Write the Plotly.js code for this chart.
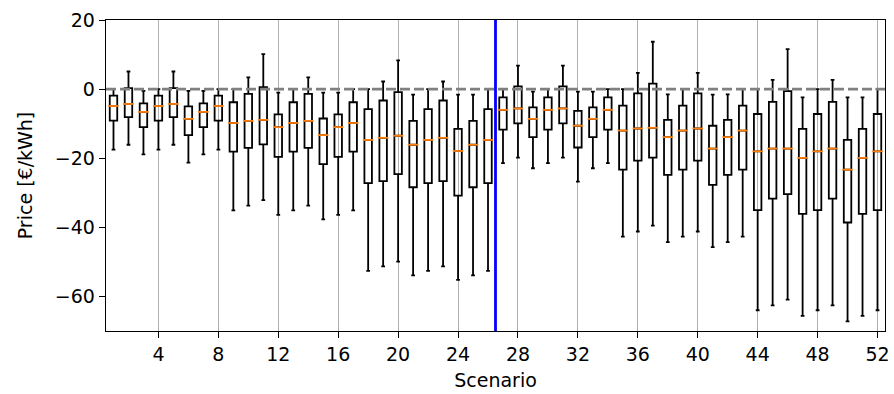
<!DOCTYPE html>
<html>
<head>
<meta charset="utf-8">
<script src="https://cdn.plot.ly/plotly-3.0.1.min.js"></script>
<style>
  html, body { margin: 0; padding: 0; background: #fff; }
  #chart { width: 894px; height: 394px; }
</style>
</head>
<body>
<div id="chart"></div>
<script>
// Scenario numbers 1..52
const scenarios = Array.from({length: 52}, (_, i) => i + 1);

// Per-scenario price statistics [€/kWh]
const upperWhisker = [
  0, 5.1, -0.5, 0, 5.1, -0.5, -0.5, 0, 0, 3.4, 10.1, -1.0, 0,
  3.4, -1.0, -1.0, 0, 0, 2.2, 8.3, -1.6, 0, 2.2, -1.6, -1.6, 0,
  0, 6.8, -0.7, 0, 6.8, -0.7, -0.7, 0, 0, 4.7, 13.7, -1.5, 0,
  4.7, -1.6, -1.5, 0, 0, 2.7, 11.6, -2.4, 0, 2.7, -2.4, -2.4, 0
];
const q3 = [
  -1.9, 0.3, -4.1, -1.9, 0.3, -5.0, -4.1, -1.9, -3.8, -1.35, 0.6, -7.3, -3.8,
  -1.35, -8.5, -7.3, -3.8, -5.8, -3.3, -0.9, -9.2, -5.8, -3.3, -11.5, -9.2, -5.8,
  -2.4, 0.8, -5.3, -2.4, 0.8, -6.3, -5.3, -2.4, -4.8, -1.25, 1.6, -8.9, -4.8,
  -1.25, -10.6, -8.9, -4.8, -7.2, -3.7, -0.6, -11.5, -7.2, -3.7, -14.7, -11.5, -7.2
];
const medians = [
  -4.9, -4.3, -6.6, -4.9, -4.3, -8.6, -6.6, -4.9, -9.8, -9.2, -8.9, -11.0, -9.8,
  -9.2, -13.3, -11.0, -9.8, -14.7, -14.1, -13.5, -16.1, -14.7, -14.1, -17.9, -16.1, -14.7,
  -6.0, -5.6, -8.6, -6.0, -5.6, -10.6, -8.6, -6.0, -12.0, -11.4, -11.2, -13.9, -12.0,
  -11.4, -17.2, -13.9, -12.0, -18.0, -17.2, -17.2, -19.9, -18.0, -17.2, -23.3, -19.9, -18.0
];
const q1 = [
  -9.1, -8.1, -11.0, -9.1, -8.1, -13.3, -11.0, -9.1, -18.1, -17.0, -16.0, -19.6, -18.1,
  -17.0, -21.7, -19.6, -18.1, -27.2, -26.6, -24.6, -28.4, -27.2, -26.6, -30.8, -28.4, -27.2,
  -11.7, -9.9, -13.9, -11.7, -9.9, -16.9, -13.9, -11.7, -23.3, -20.7, -19.8, -24.8, -23.3,
  -20.7, -27.7, -24.8, -23.3, -35.0, -31.7, -30.4, -36.1, -35.0, -31.7, -38.6, -36.1, -35.0
];
const lowerWhisker = [
  -17.5, -16.1, -18.9, -17.5, -16.1, -21.3, -18.9, -17.5, -35.1, -33.7, -32.1, -36.4, -35.1,
  -33.7, -37.7, -36.4, -35.1, -52.6, -51.3, -49.9, -53.9, -52.6, -51.3, -55.2, -53.9, -52.6,
  -21.4, -19.8, -22.9, -21.4, -19.8, -26.8, -22.9, -21.4, -42.7, -41.2, -39.5, -44.3, -42.7,
  -41.2, -45.7, -44.3, -42.7, -64.0, -62.6, -60.9, -65.6, -64.0, -62.6, -67.2, -65.6, -64.0
];

// Axis ticks and reference lines
const xTicks = [4, 8, 12, 16, 20, 24, 28, 32, 36, 40, 44, 48, 52];
const yTicks = [-60, -40, -20, 0, 20];
const zeroPrice = 0;
const splitScenario = 26.5;

const font = 'DejaVu Sans, sans-serif';

const boxes = {
  type: 'box',
  x: scenarios,
  q1: q1,
  median: medians,
  q3: q3,
  lowerfence: lowerWhisker,
  upperfence: upperWhisker,
  boxpoints: false,
  width: 0.5,
  whiskerwidth: 0.5,
  fillcolor: 'rgba(0,0,0,0)',
  line: {color: '#000000', width: 1.8},
  hoverinfo: 'skip',
  showlegend: false
};

// Orange median bars drawn over the black box outlines
const medianMarks = {
  type: 'scatter',
  mode: 'markers',
  x: scenarios,
  y: medians,
  marker: {
    symbol: 'line-ew',
    size: 7.5,
    color: '#ff7f0e',
    line: {color: '#ff7f0e', width: 1.8}
  },
  hoverinfo: 'skip',
  showlegend: false
};

const layout = {
  width: 894,
  height: 394,
  margin: {l: 106, r: 9, t: 20, b: 63},
  paper_bgcolor: '#ffffff',
  plot_bgcolor: '#ffffff',
  font: {family: font, size: 19, color: '#000000'},
  showlegend: false,
  xaxis: {
    range: [0.5, 52.5],
    tickmode: 'array',
    tickvals: xTicks,
    ticktext: xTicks.map(String),
    ticks: 'outside',
    ticklen: 6,
    tickwidth: 1,
    tickcolor: '#000000',
    showgrid: true,
    gridcolor: '#b0b0b0',
    gridwidth: 1,
    zeroline: false,
    showline: true,
    linecolor: '#000000',
    linewidth: 1.3,
    mirror: true,
    tickfont: {family: font, size: 19, color: '#000000'},
    title: {text: 'Scenario', font: {family: font, size: 19, color: '#000000'}, standoff: 9}
  },
  yaxis: {
    range: [-70, 20],
    tickmode: 'array',
    tickvals: yTicks,
    ticktext: yTicks.map(v => (v < 0 ? '\u2212' + Math.abs(v) : String(v))),
    ticks: 'outside',
    ticklen: 6,
    tickwidth: 1,
    tickcolor: '#000000',
    showgrid: false,
    zeroline: false,
    showline: true,
    linecolor: '#000000',
    linewidth: 1.3,
    mirror: true,
    tickfont: {family: font, size: 19, color: '#000000'},
    title: {text: 'Price [€/kWh]', font: {family: font, size: 19, color: '#000000'}, standoff: 17}
  },
  shapes: [
    {
      type: 'line', xref: 'paper', yref: 'y',
      x0: 0, x1: 1, y0: zeroPrice, y1: zeroPrice,
      line: {color: '#808080', width: 2.8, dash: '10px,4px'},
      layer: 'above'
    },
    {
      type: 'line', xref: 'x', yref: 'paper',
      x0: splitScenario, x1: splitScenario, y0: 0, y1: 1,
      line: {color: '#0000ff', width: 2.8},
      layer: 'above'
    }
  ]
};

Plotly.newPlot('chart', [boxes, medianMarks], layout, {displayModeBar: false, staticPlot: true});
</script>
</body>
</html>
